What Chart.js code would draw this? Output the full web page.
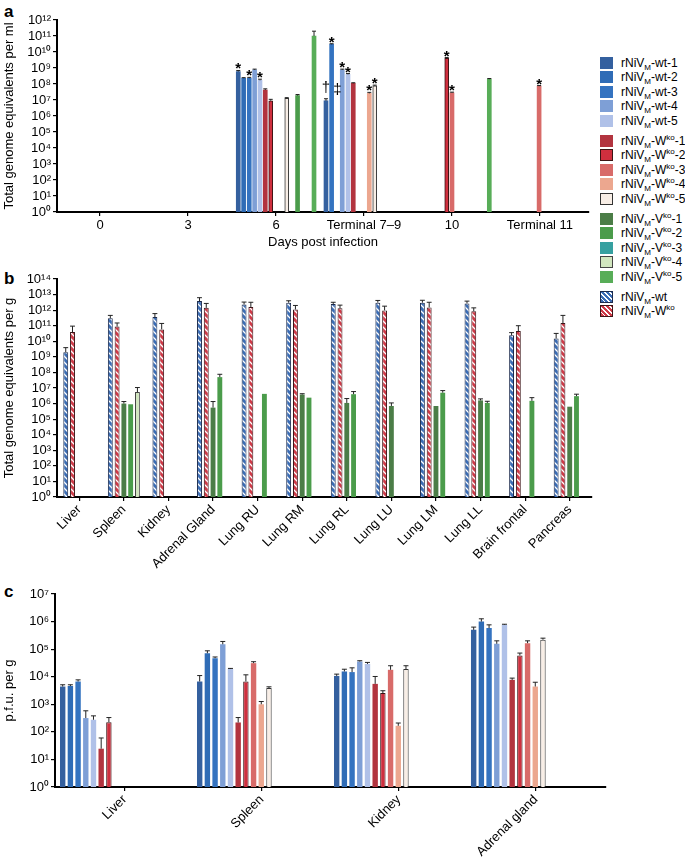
<!DOCTYPE html>
<html>
<head>
<meta charset="utf-8">
<script src="https://cdn.jsdelivr.net/npm/chart.js@4.4.1/dist/chart.umd.min.js"></script>
<style>
body{margin:0;background:#fff;width:685px;height:863px;overflow:hidden;position:relative;font-family:"Liberation Sans",Arial,sans-serif;color:#000;}
canvas{position:absolute;}
.panel{position:absolute;font-weight:bold;font-size:17px;line-height:17px;}
#legend{position:absolute;left:600px;top:0;font-size:12px;}
.row{position:absolute;left:0;height:12px;white-space:nowrap;}
.sw{position:absolute;left:0;top:0;width:13px;height:12px;box-sizing:border-box;}
.lb{position:absolute;left:21px;top:-1px;line-height:14px;}
sub,sup{font-size:8px;line-height:0;}
</style>
</head>
<body>
<div class="panel" style="left:4px;top:3px">a</div>
<div class="panel" style="left:4px;top:270px">b</div>
<div class="panel" style="left:4px;top:583px">c</div>
<canvas id="chartA" width="600" height="255" style="left:0;top:0"></canvas>
<canvas id="chartB" width="600" height="340" style="left:0;top:250px"></canvas>
<canvas id="chartC" width="620" height="288" style="left:0;top:575px"></canvas>
<div id="legend"></div>
<script>
// ---- panel a : genome equivalents in blood over time ----
const yLabelsA = ['10⁰','10¹','10²','10³','10⁴','10⁵','10⁶','10⁷','10⁸','10⁹','10¹⁰','10¹¹','10¹²'];
const dayLabels = ['0', '3', '6', 'Terminal 7–9', '10', 'Terminal 11'];
// position of each bar along the day axis (0 = day 0 tick, 1 = day 3 tick, ...)
const barPosA = [1.571, 1.632, 1.696, 1.757, 1.818, 1.878, 1.940, 2.122, 2.245, 2.432,
                 2.568, 2.632, 2.753, 2.818, 2.878, 3.060, 3.122, 3.940, 4.000, 4.424, 4.990];
const genomesA = [6e8, 2.3e8, 2.3e8, 7.6e8, 1.7e8, 4.2e7, 9e6, 1.26e7, 1.9e7, 1e11,
                  9e6, 3e10, 7.6e8, 4e8, 1.1e8, 2.6e7, 7.7e7, 4e9, 2.8e7, 2e8, 7.4e7];
const genomesAErr = [7e8, 2.5e8, 2.6e8, 8.5e8, 2e8, 5e7, 1.1e7, 1.4e7, 2.2e7, 2e11,
                     1.2e7, 3.3e10, 8.5e8, 4.5e8, 1.2e8, 3e7, 8.5e7, 4.5e9, 3.1e7, 2.2e8, 8e7];
const animalsA = ['wt-1','wt-2','wt-3','wt-4','wt-5','Wko-1','Wko-2','Wko-5','Vko-2','Vko-5',
                  'wt-1','wt-3','wt-4','wt-5','Wko-1','Wko-4','Wko-5','Wko-2','Wko-3','Vko-5','Wko-3'];
const marksA = ['*','','*','','*','','','','','','†','*','*','*','','*','*','*','*','','*'];
const extraMarkPos = [2.697];
const extraMarkVal = [9e6];
const extraMarkSym = ['‡'];

// ---- panel b : organs, genome equivalents per g ----
const yLabelsB = ['10⁰','10¹','10²','10³','10⁴','10⁵','10⁶','10⁷','10⁸','10⁹','10¹⁰','10¹¹','10¹²','10¹³','10¹⁴'];
const organsB = ['Liver','Spleen','Kidney','Adrenal Gland','Lung RU','Lung RM','Lung RL','Lung LU','Lung LM','Lung LL','Brain frontal','Pancreas'];
const wtB     = [2e9, 3e11, 3.6e11, 3.8e12, 2.3e12, 3e12, 2.5e12, 3e12, 3e12, 2.7e12, 2.4e10, 1.5e10];
const wtBErr  = [3.9e9, 4.6e11, 6e11, 6.3e12, 3.3e12, 4e12, 3.2e12, 4.2e12, 4.3e12, 3.8e12, 3.6e10, 3.2e10];
const wkoB    = [3.9e10, 8.8e10, 5.8e10, 1.4e12, 1.6e12, 1.1e12, 1.3e12, 9.6e11, 1.5e12, 8.6e11, 4.5e10, 1.5e11];
const wkoBErr = [9.4e10, 1.5e11, 1.4e11, 2.7e12, 3.2e12, 2e12, 2.1e12, 1.8e12, 3.2e12, 1.4e12, 1e11, 4.6e11];
const vko1B    = [null, 1.0e6, null, 5.5e5, null, 3.8e6, 1.1e6, 7e5, 7e5, 1.6e6, null, 6.3e5];
const vko1BErr = [null, 1.35e6, null, 1.35e6, null, 4.3e6, 2.1e6, 1.1e6, null, 2e6, null, null];
const vko2B    = [null, 9e5, null, 5e7, 4.2e6, 2.4e6, 4e6, null, 5e6, 1.1e6, 1.5e6, 3e6];
const vko2BErr = [null, null, null, 7.6e7, null, null, 5.9e6, null, 6.8e6, 1.4e6, 2.4e6, 4e6];
const vko4B    = [null, 5.5e6, null, null, null, null, null, null, null, null, null, null];
const vko4BErr = [null, 1.07e7, null, null, null, null, null, null, null, null, null, null];

// ---- panel c : p.f.u. per g ----
const yLabelsC = ['10⁰','10¹','10²','10³','10⁴','10⁵','10⁶','10⁷'];
const organsC = ['Liver', 'Spleen', 'Kidney', 'Adrenal gland'];
const pfuWt1  = [4.4e3, 6.7e3, 1.07e4, 5.0e5];
const pfuWt2  = [4.6e3, 7.1e4, 1.55e4, 1.0e6];
const pfuWt3  = [6.7e3, 4.7e4, 1.47e4, 5.8e5];
const pfuWt4  = [316, 1.5e5, 3.56e4, 1.56e5];
const pfuWt5  = [275, 1.9e4, 2.9e4, 7.6e5];
const pfuWko1 = [24.5, 219, 5.5e3, 7.7e3];
const pfuWko2 = [225, 6.7e3, 2.55e3, 5.9e4];
const pfuWko3 = [null, 3.1e4, 1.78e4, 1.65e5];
const pfuWko4 = [null, 1.0e3, 166, 4.4e3];
const pfuWko5 = [null, 3.9e3, 1.9e4, 2.2e5];
const errWt1  = [5.1e3, 1.1e4, 1.24e4, 6.3e5];
const errWt2  = [5.1e3, 8.7e4, 1.87e4, 1.26e6];
const errWt3  = [7.7e3, 5.2e4, 2.1e4, 7.6e5];
const errWt4  = [580, 1.9e5, 3.8e4, 2.0e5];
const errWt5  = [380, 2.0e4, 3.3e4, 8.0e5];
const errWko1 = [60, 330, 1.02e4, 8.9e3];
const errWko2 = [330, 1.17e4, 3.1e3, 7.2e4];
const errWko3 = [null, 3.5e4, 2.5e4, 2.0e5];
const errWko4 = [null, 1.26e3, 209, 6.3e3];
const errWko5 = [null, 4.3e3, 2.5e4, 2.5e5];

// ---- styles ----
const colors = {
  'wt-1':'#34609f','wt-2':'#2f6cb6','wt-3':'#3473c0','wt-4':'#7e9fd6','wt-5':'#b0c1e8',
  'Wko-1':'#b2343f','Wko-2':'#cf2f3e','Wko-3':'#d86b69','Wko-4':'#eca78f','Wko-5':'#f8eee6',
  'Vko-1':'#4b7d47','Vko-2':'#4b9c4b','Vko-3':'#36a0a0','Vko-4':'#d1e6bf','Vko-5':'#58ad58'
};
const outlined = {'Wko-2':'#3a1414', 'Wko-5':'#333', 'Vko-4':'#444'};
const FONT = '"Liberation Sans", Arial, sans-serif';
Chart.defaults.font.family = FONT;
Chart.defaults.color = '#000';

function hatch(base) {
  const c = document.createElement('canvas');
  c.width = c.height = 6;
  const g = c.getContext('2d');
  g.fillStyle = base; g.fillRect(0, 0, 6, 6);
  g.strokeStyle = '#fff'; g.lineWidth = 1.3;
  g.beginPath();
  g.moveTo(0, 0); g.lineTo(6, 6);
  g.moveTo(-3, 3); g.lineTo(3, 9);
  g.moveTo(3, -3); g.lineTo(9, 3);
  g.stroke();
  return g.createPattern(c, 'repeat');
}

function logY(labels, title, width, titlePad) {
  return {
    type: 'logarithmic', min: 1, max: Math.pow(10, labels.length - 1),
    afterBuildTicks: s => { s.ticks = labels.map((l, i) => ({value: Math.pow(10, i)})); },
    afterFit: s => { s.width = width; s.paddingTop = 0; s.paddingBottom = 0; },
    ticks: {callback: (v, i) => labels[i], font: {size: 13}, color: '#000', padding: 2, autoSkip: false},
    grid: {drawOnChartArea: false, drawTicks: true, tickLength: 4, color: '#000', lineWidth: 1.2},
    border: {display: true, color: '#000', width: 2},
    title: {display: true, text: title, font: {size: 13}, color: '#000', padding: {top: titlePad, bottom: 0}}
  };
}

const errorBars = {
  id: 'errorBars',
  afterDatasetsDraw(chart) {
    const ctx = chart.ctx, ys = chart.scales.y;
    ctx.save();
    ctx.strokeStyle = '#222'; ctx.lineWidth = 1;
    chart.data.datasets.forEach((ds, di) => {
      if (!ds.errHigh) return;
      chart.getDatasetMeta(di).data.forEach((bar, i) => {
        const hi = ds.errHigh[i];
        if (hi == null || ds.data[i] == null) return;
        const top = ys.getPixelForValue(hi);
        const w = Math.min(bar.width / 2, 2.5);
        ctx.beginPath();
        ctx.moveTo(bar.x, bar.y); ctx.lineTo(bar.x, top);
        ctx.moveTo(bar.x - w, top); ctx.lineTo(bar.x + w, top);
        ctx.stroke();
      });
    });
    ctx.restore();
  }
};

const marks = {
  id: 'marks',
  afterDatasetsDraw(chart) {
    const ctx = chart.ctx, xs = chart.scales.x, ys = chart.scales.y;
    ctx.save();
    ctx.fillStyle = '#000'; ctx.textAlign = 'center';
    chart.getDatasetMeta(0).data.forEach((bar, i) => {
      const m = marksA[i];
      if (!m) return;
      const top = Math.min(bar.y, ys.getPixelForValue(genomesAErr[i]));
      if (m === '*') {
        ctx.font = 'bold 15px ' + FONT; ctx.textBaseline = 'alphabetic';
        ctx.fillText(m, bar.x, top + 3);
      } else {
        ctx.font = '15px ' + FONT; ctx.textBaseline = 'middle';
        ctx.fillText(m, bar.x, top - 11);
      }
    });
    extraMarkPos.forEach((p, i) => {
      ctx.font = '15px ' + FONT; ctx.textBaseline = 'middle';
      ctx.fillText(extraMarkSym[i], xs.getPixelForValue(p), ys.getPixelForValue(extraMarkVal[i]) - 11);
    });
    ctx.restore();
  }
};

// ---- chart a ----
new Chart(document.getElementById('chartA'), {
  type: 'bar',
  data: {
    datasets: [{
      data: barPosA.map((x, i) => ({x: x, y: genomesA[i]})),
      errHigh: genomesAErr,
      backgroundColor: animalsA.map(k => colors[k]),
      borderColor: animalsA.map(k => outlined[k] || 'rgba(0,0,0,0)'),
      borderWidth: animalsA.map(k => outlined[k] ? 1 : 0),
      barThickness: 4
    }]
  },
  options: {
    responsive: false, animation: false,
    layout: {padding: {top: 20, right: 11, left: 0, bottom: 0}},
    plugins: {legend: {display: false}, tooltip: {enabled: false}},
    scales: {
      x: {
        type: 'linear', min: -0.489, max: 5.557, offset: false,
        afterBuildTicks: s => { s.ticks = dayLabels.map((l, i) => ({value: i})); },
        afterFit: s => { s.height = 43; s.paddingLeft = 0; s.paddingRight = 0; },
        ticks: {callback: (v, i) => dayLabels[i], maxRotation: 0, minRotation: 0, autoSkip: false, font: {size: 13}, color: '#000', padding: 2},
        grid: {drawOnChartArea: false, offset: false, tickLength: 4, color: '#000', lineWidth: 1.2},
        border: {display: true, color: '#000', width: 2},
        title: {display: true, text: 'Days post infection', font: {size: 13}, color: '#000', padding: {top: 0, bottom: 5}}
      },
      y: logY(yLabelsA, 'Total genome equivalents per ml', 57, 2)
    }
  },
  plugins: [errorBars, marks]
});

// ---- chart b ----
const hatchBlue = hatch('#3b6db5');
const hatchRed = hatch('#cf3a48');
new Chart(document.getElementById('chartB'), {
  type: 'bar',
  data: {
    labels: organsB,
    datasets: [
      {label: 'wt', data: wtB, errHigh: wtBErr, backgroundColor: hatchBlue, borderColor: '#1c2b4d', borderWidth: 1},
      {label: 'Wko', data: wkoB, errHigh: wkoBErr, backgroundColor: hatchRed, borderColor: '#3d1518', borderWidth: 1},
      {label: 'Vko-1', data: vko1B, errHigh: vko1BErr, backgroundColor: colors['Vko-1'], borderWidth: 0},
      {label: 'Vko-2', data: vko2B, errHigh: vko2BErr, backgroundColor: colors['Vko-2'], borderWidth: 0},
      {label: 'Vko-4', data: vko4B, errHigh: vko4BErr, backgroundColor: colors['Vko-4'], borderColor: outlined['Vko-4'], borderWidth: 1}
    ]
  },
  options: {
    responsive: false, animation: false,
    layout: {padding: {top: 29, right: 8, left: 0, bottom: 0}},
    plugins: {legend: {display: false}, tooltip: {enabled: false}},
    datasets: {bar: {categoryPercentage: 0.76, barPercentage: 0.72}},
    scales: {
      x: {
        type: 'category', offset: true,
        afterFit: s => { s.height = 93; s.paddingLeft = 0; s.paddingRight = 0; },
        ticks: {maxRotation: 45, minRotation: 45, autoSkip: false, font: {size: 13}, color: '#000', padding: 1},
        grid: {drawOnChartArea: false, offset: false, tickLength: 4, color: '#000', lineWidth: 1.2},
        border: {display: true, color: '#000', width: 2}
      },
      y: logY(yLabelsB, 'Total genome equivalents per g', 57, 2)
    }
  },
  plugins: [errorBars]
});

// ---- chart c ----
const cKeys = ['wt-1','wt-2','wt-3','wt-4','wt-5','Wko-1','Wko-2','Wko-3','Wko-4','Wko-5'];
const cValues = [pfuWt1, pfuWt2, pfuWt3, pfuWt4, pfuWt5, pfuWko1, pfuWko2, pfuWko3, pfuWko4, pfuWko5];
const cErrors = [errWt1, errWt2, errWt3, errWt4, errWt5, errWko1, errWko2, errWko3, errWko4, errWko5];
new Chart(document.getElementById('chartC'), {
  type: 'bar',
  data: {
    datasets: cKeys.map((k, j) => ({
      label: k,
      data: cValues[j].map((v, i) => ({x: i, y: v})),
      errHigh: cErrors[j],
      backgroundColor: colors[k],
      borderColor: outlined[k] || 'rgba(0,0,0,0)',
      borderWidth: outlined[k] ? 1 : 0
    }))
  },
  options: {
    responsive: false, animation: false,
    layout: {padding: {top: 19, right: 14, left: 0, bottom: 0}},
    plugins: {legend: {display: false}, tooltip: {enabled: false}},
    datasets: {bar: {categoryPercentage: 0.562, barPercentage: 0.7}},
    scales: {
      x: {
        type: 'linear', min: -0.309, max: 3.713, offset: false,
        afterBuildTicks: s => { s.ticks = organsC.map((l, i) => ({value: i + 0.2})); },
        afterFit: s => { s.height = 76; s.paddingLeft = 0; s.paddingRight = 0; },
        ticks: {callback: (v, i) => organsC[i], maxRotation: 45, minRotation: 45, autoSkip: false, font: {size: 13}, color: '#000', padding: 1},
        grid: {drawOnChartArea: false, offset: false, tickLength: 4, color: '#000', lineWidth: 1.2},
        border: {display: true, color: '#000', width: 2}
      },
      y: logY(yLabelsC, 'p.f.u. per g', 55, 2)
    }
  },
  plugins: [errorBars]
});

// ---- legend ----
const legendRows = [
  ['wt-1', 'rNiV<sub>M</sub>-wt-1'], ['wt-2', 'rNiV<sub>M</sub>-wt-2'], ['wt-3', 'rNiV<sub>M</sub>-wt-3'],
  ['wt-4', 'rNiV<sub>M</sub>-wt-4'], ['wt-5', 'rNiV<sub>M</sub>-wt-5'],
  ['Wko-1', 'rNiV<sub>M</sub>-W<sup>ko</sup>-1'], ['Wko-2', 'rNiV<sub>M</sub>-W<sup>ko</sup>-2'], ['Wko-3', 'rNiV<sub>M</sub>-W<sup>ko</sup>-3'],
  ['Wko-4', 'rNiV<sub>M</sub>-W<sup>ko</sup>-4'], ['Wko-5', 'rNiV<sub>M</sub>-W<sup>ko</sup>-5'],
  ['Vko-1', 'rNiV<sub>M</sub>-V<sup>ko</sup>-1'], ['Vko-2', 'rNiV<sub>M</sub>-V<sup>ko</sup>-2'], ['Vko-3', 'rNiV<sub>M</sub>-V<sup>ko</sup>-3'],
  ['Vko-4', 'rNiV<sub>M</sub>-V<sup>ko</sup>-4'], ['Vko-5', 'rNiV<sub>M</sub>-V<sup>ko</sup>-5'],
  ['hatch-wt', 'rNiV<sub>M</sub>-wt'], ['hatch-wko', 'rNiV<sub>M</sub>-W<sup>ko</sup>']
];
const legend = document.getElementById('legend');
legendRows.forEach((r, i) => {
  const group = Math.floor(i / 5);
  const y = 63 + group * 78 + (i % 5) * 14.4 - 6;
  let bg = colors[r[0]], border = outlined[r[0]] ? '1px solid ' + outlined[r[0]] : 'none';
  if (r[0] === 'hatch-wt') { bg = 'repeating-linear-gradient(45deg,#3b6db5 0 2.2px,#fff 2.2px 3.4px)'; border = '1px solid #1c2b4d'; }
  if (r[0] === 'hatch-wko') { bg = 'repeating-linear-gradient(45deg,#cf3a48 0 2.2px,#fff 2.2px 3.4px)'; border = '1px solid #3d1518'; }
  const row = document.createElement('div');
  row.className = 'row';
  row.style.top = y + 'px';
  row.innerHTML = '<div class="sw" style="background:' + bg + ';border:' + border + '"></div><div class="lb">' + r[1] + '</div>';
  legend.appendChild(row);
});
</script>
</body>
</html>
